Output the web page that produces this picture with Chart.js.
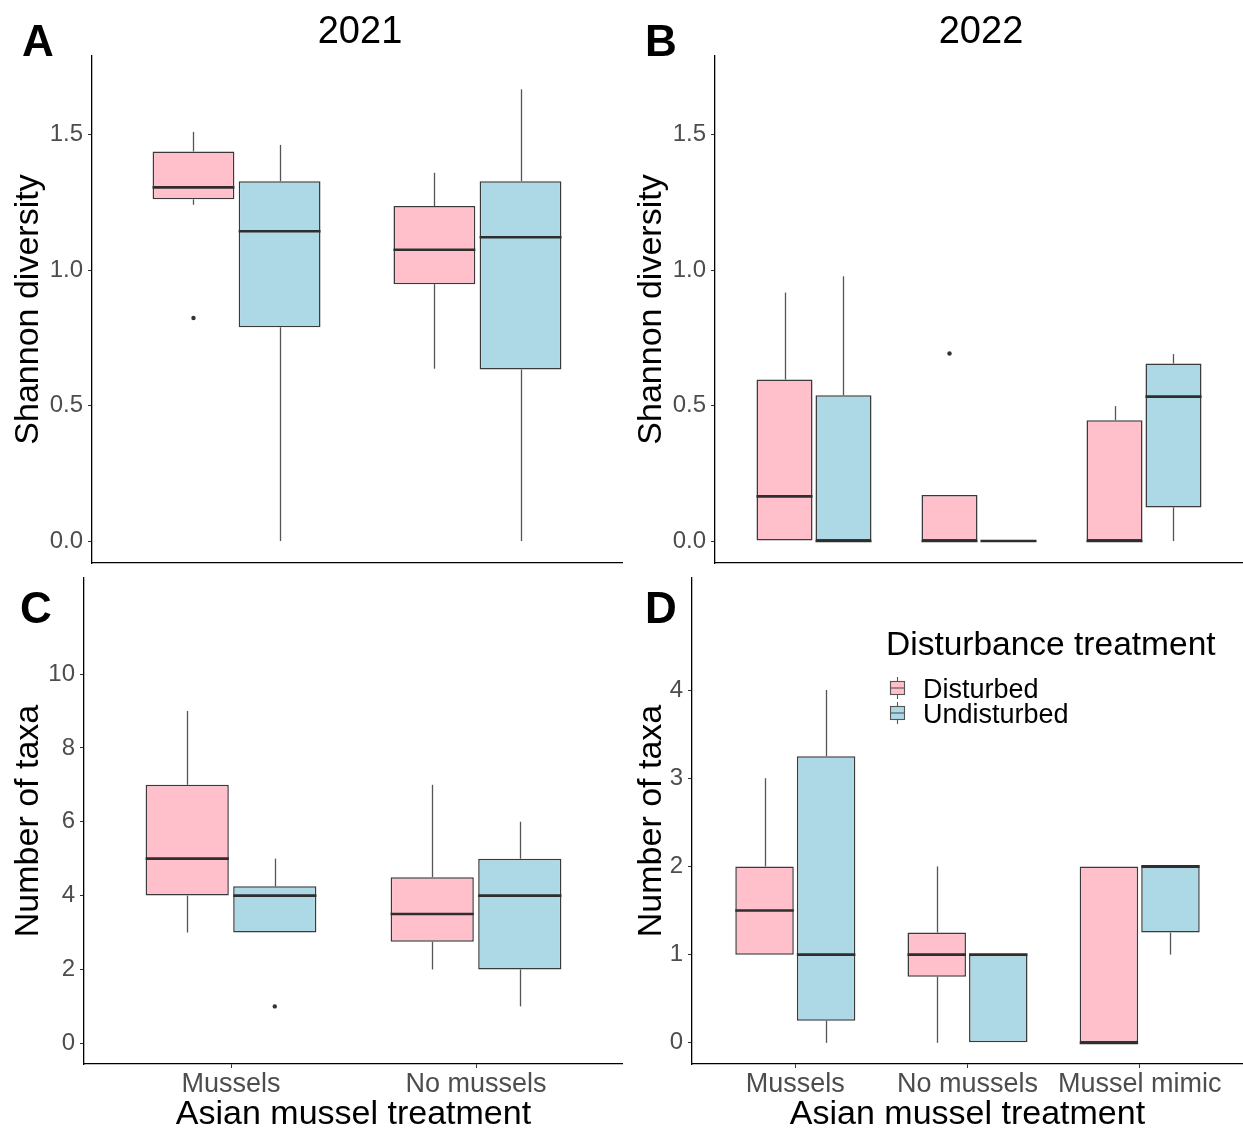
<!DOCTYPE html>
<html>
<head>
<meta charset="utf-8">
<script src="https://cdn.jsdelivr.net/npm/chart.js@4.4.1/dist/chart.umd.min.js"></script>
<style>
  body { margin: 0; background: #fff; width: 1243px; height: 1133px; position: relative; overflow: hidden;
         font-family: "Liberation Sans", Arial, sans-serif; }
  canvas { position: absolute; }
  .lbl { position: absolute; line-height: 1; color: #000; white-space: nowrap; }
</style>
</head>
<body>
<canvas id="cA" width="623" height="600" style="left:0px;top:0px"></canvas>
<canvas id="cB" width="620" height="600" style="left:623px;top:0px"></canvas>
<canvas id="cC" width="623" height="593" style="left:0px;top:540px"></canvas>
<canvas id="cD" width="620" height="593" style="left:623px;top:540px"></canvas>

<div class="lbl" style="left:22px;top:19px;font-size:44px;font-weight:bold">A</div>
<div class="lbl" style="left:645px;top:19px;font-size:44px;font-weight:bold">B</div>
<div class="lbl" style="left:20px;top:586px;font-size:44px;font-weight:bold">C</div>
<div class="lbl" style="left:645px;top:586px;font-size:44px;font-weight:bold">D</div>
<div class="lbl" id="t2021" style="left:360px;top:11px;font-size:38px;transform:translateX(-50%)"></div>
<div class="lbl" id="t2022" style="left:981px;top:11px;font-size:38px;transform:translateX(-50%)"></div>

<script>
// ---------------- DATA ----------------
// box stats: [lower whisker, Q1, median, Q3, upper whisker]
const years = ['2021', '2022'];
const groups = ['Disturbed', 'Undisturbed'];
const groupColors = ['#FFC0CB', '#ADD8E6'];
const categories2021 = ['Mussels', 'No mussels'];
const categories2022 = ['Mussels', 'No mussels', 'Mussel mimic'];

const shannon2021Disturbed   = [[1.241, 1.261, 1.305, 1.438, 1.510], [0.636, 0.948, 1.075, 1.236, 1.359]];
const shannon2021DisturbedOut   = [[0.823], []];
const shannon2021Undisturbed = [[0, 0.789, 1.143, 1.328, 1.462], [0, 0.633, 1.121, 1.328, 1.667]];
const shannon2021UndisturbedOut = [[], []];

const shannon2022Disturbed   = [[0, 0, 0.165, 0.596, 0.917], [0, 0, 0, 0.170, 0.170], [0, 0, 0, 0.446, 0.498]];
const shannon2022DisturbedOut   = [[], [0.692], []];
const shannon2022Undisturbed = [[0, 0, 0, 0.538, 0.977], [0, 0, 0, 0, 0], [0, 0.124, 0.533, 0.655, 0.690]];
const shannon2022UndisturbedOut = [[], [], []];

const taxa2021Disturbed   = [[3, 4, 5, 7, 9], [2, 2.75, 3.5, 4.5, 7]];
const taxa2021DisturbedOut   = [[], []];
const taxa2021Undisturbed = [[3, 3, 4, 4.25, 5], [1, 2, 4, 5, 6]];
const taxa2021UndisturbedOut = [[1], []];

const taxa2022Disturbed   = [[1, 1, 1.5, 2, 3], [0, 0.75, 1, 1.25, 2], [0, 0, 0, 2, 2]];
const taxa2022DisturbedOut   = [[], [], []];
const taxa2022Undisturbed = [[0, 0.25, 1, 3.25, 4], [0, 0, 1, 1, 1], [1, 1.25, 2, 2, 2]];
const taxa2022UndisturbedOut = [[], [], []];

const shannonTickValues = [0, 0.5, 1.0, 1.5];
const shannonTickLabels = ['0.0', '0.5', '1.0', '1.5'];
const taxa2021TickValues = [0, 2, 4, 6, 8, 10];
const taxa2021TickLabels = ['0', '2', '4', '6', '8', '10'];
const taxa2022TickValues = [0, 1, 2, 3, 4];
const taxa2022TickLabels = ['0', '1', '2', '3', '4'];

const yTitleShannon = 'Shannon diversity';
const yTitleTaxa = 'Number of taxa';
const xTitle = 'Asian mussel treatment';
const legendTitle = 'Disturbance treatment';

// ---------------- RENDER ----------------
document.getElementById('t2021').textContent = years[0];
document.getElementById('t2022').textContent = years[1];

const FAMILY = '"Liberation Sans", Arial, sans-serif';
const LINE = '#3a3a3a';
const WHISK = '#555';

function strokeLine(ctx, x1, y1, x2, y2) {
  ctx.beginPath(); ctx.moveTo(x1, y1); ctx.lineTo(x2, y2); ctx.stroke();
}

const boxParts = {
  id: 'boxParts',
  beforeDatasetsDraw(chart) {
    const ctx = chart.ctx, ys = chart.scales.y;
    ctx.save();
    ctx.strokeStyle = WHISK; ctx.lineWidth = 1.3;
    chart.data.datasets.forEach((ds, di) => {
      chart.getDatasetMeta(di).data.forEach((bar, i) => {
        const s = ds.stats[i];
        const x = Math.round(bar.x) + 0.5;
        if (s[0] < s[1]) strokeLine(ctx, x, ys.getPixelForValue(s[0]), x, ys.getPixelForValue(s[1]));
        if (s[4] > s[3]) strokeLine(ctx, x, ys.getPixelForValue(s[3]), x, ys.getPixelForValue(s[4]));
      });
    });
    ctx.restore();
  },
  afterDatasetsDraw(chart) {
    const ctx = chart.ctx, ys = chart.scales.y;
    ctx.save();
    chart.data.datasets.forEach((ds, di) => {
      chart.getDatasetMeta(di).data.forEach((bar, i) => {
        const s = ds.stats[i];
        const ym = ys.getPixelForValue(s[2]);
        ctx.strokeStyle = '#2e2e2e'; ctx.lineWidth = 2.6;
        strokeLine(ctx, bar.x - bar.width / 2, ym, bar.x + bar.width / 2, ym);
        ctx.fillStyle = '#333';
        ds.outliers[i].forEach(v => {
          ctx.beginPath();
          ctx.arc(bar.x, ys.getPixelForValue(v), 2.2, 0, Math.PI * 2);
          ctx.fill();
        });
      });
    });
    ctx.restore();
  }
};

const boxLegend = {
  id: 'boxLegend',
  afterDraw(chart, args, opts) {
    if (!opts.show) return;
    const ctx = chart.ctx;
    ctx.save();
    ctx.fillStyle = '#000';
    ctx.textBaseline = 'alphabetic';
    ctx.textAlign = 'left';
    ctx.font = '33.5px ' + FAMILY;
    ctx.fillText(opts.title, opts.x, opts.titleY);
    ctx.font = '27px ' + FAMILY;
    chart.data.datasets.forEach((ds, i) => {
      const base = opts.itemY + i * opts.step;
      const kx = opts.x + 4, kw = 15, kTop = base - 17, kh = 14;
      const cx = kx + kw / 2;
      ctx.strokeStyle = WHISK; ctx.lineWidth = 1.1;
      strokeLine(ctx, cx, kTop - 4, cx, kTop);
      strokeLine(ctx, cx, kTop + kh, cx, kTop + kh + 4);
      ctx.fillStyle = ds.backgroundColor;
      ctx.fillRect(kx, kTop, kw, kh);
      ctx.strokeRect(kx + 0.5, kTop + 0.5, kw - 1, kh - 1);
      strokeLine(ctx, kx, kTop + kh / 2, kx + kw, kTop + kh / 2);
      ctx.fillStyle = '#000';
      ctx.fillText(ds.label, opts.x + 37, base);
    });
    ctx.restore();
  }
};

function boxPanel(id, o) {
  const mk = (gi, stats, outs) => ({
    label: groups[gi],
    backgroundColor: groupColors[gi],
    borderColor: LINE,
    borderWidth: 1.5,
    borderSkipped: false,
    categoryPercentage: 0.715,
    barPercentage: 0.95,
    stats: stats,
    outliers: outs,
    data: stats.map((s, i) => ({ x: i + 1, y: [s[1], s[3]] }))
  });
  return new Chart(document.getElementById(id), {
    type: 'bar',
    data: { datasets: [mk(0, o.dist, o.distOut), mk(1, o.und, o.undOut)] },
    options: {
      responsive: false,
      animation: false,
      events: [],
      layout: { padding: { top: o.padTop, right: o.padRight, left: 0, bottom: 0 } },
      plugins: {
        legend: { display: false },
        tooltip: { enabled: false },
        boxLegend: o.legend || { show: false }
      },
      scales: {
        x: {
          type: 'linear',
          min: 0.4,
          max: o.cats.length + 0.6,
          offset: false,
          afterBuildTicks: s => { s.ticks = o.cats.map((c, i) => ({ value: i + 1 })); },
          afterFit: s => { s.height = o.xH; },
          ticks: {
            display: o.showX,
            autoSkip: false, maxRotation: 0,
            callback: (v, i) => o.cats[i],
            font: { size: 27, family: FAMILY },
            color: '#4d4d4d',
            padding: 0
          },
          grid: { display: o.showX, offset: false, drawOnChartArea: false, drawTicks: true, tickLength: 4, color: '#333' },
          border: { display: true, color: '#000', width: 1.3 },
          title: { display: o.showX, text: xTitle, color: '#000', font: { size: 34, family: FAMILY, lineHeight: 1.1 }, padding: { top: 0, bottom: 0 } }
        },
        y: {
          type: 'linear',
          min: o.yMin,
          max: o.yMax,
          afterBuildTicks: s => { s.ticks = o.yTicks.map(v => ({ value: v })); },
          afterFit: s => { s.width = o.yW; },
          ticks: {
            callback: (v, i) => o.yLabels[i],
            font: { size: 24, family: FAMILY },
            color: '#4d4d4d',
            padding: 5
          },
          grid: { drawOnChartArea: false, drawTicks: true, tickLength: 4, color: '#333' },
          border: { display: true, color: '#000', width: 1.3 },
          title: { display: true, text: o.yTitle, color: '#000', font: { size: 34, family: FAMILY }, padding: { top: 8, bottom: 0 } }
        }
      }
    },
    plugins: [boxParts, boxLegend]
  });
}

boxPanel('cA', {
  cats: categories2021, dist: shannon2021Disturbed, distOut: shannon2021DisturbedOut,
  und: shannon2021Undisturbed, undOut: shannon2021UndisturbedOut,
  yMin: -0.081, yMax: 1.79, yTicks: shannonTickValues, yLabels: shannonTickLabels, yTitle: yTitleShannon,
  padTop: 56, padRight: 1, yW: 92, xH: 37, showX: false
});
boxPanel('cB', {
  cats: categories2022, dist: shannon2022Disturbed, distOut: shannon2022DisturbedOut,
  und: shannon2022Undisturbed, undOut: shannon2022UndisturbedOut,
  yMin: -0.081, yMax: 1.79, yTicks: shannonTickValues, yLabels: shannonTickLabels, yTitle: yTitleShannon,
  padTop: 56, padRight: 0, yW: 92, xH: 37, showX: false
});
boxPanel('cC', {
  cats: categories2021, dist: taxa2021Disturbed, distOut: taxa2021DisturbedOut,
  und: taxa2021Undisturbed, undOut: taxa2021UndisturbedOut,
  yMin: -0.56, yMax: 12.6, yTicks: taxa2021TickValues, yLabels: taxa2021TickLabels, yTitle: yTitleTaxa,
  padTop: 38, padRight: 0, yW: 84, xH: 69, showX: true
});
boxPanel('cD', {
  cats: categories2022, dist: taxa2022Disturbed, distOut: taxa2022DisturbedOut,
  und: taxa2022Undisturbed, undOut: taxa2022UndisturbedOut,
  yMin: -0.24, yMax: 5.27, yTicks: taxa2022TickValues, yLabels: taxa2022TickLabels, yTitle: yTitleTaxa,
  padTop: 38, padRight: 0, yW: 69, xH: 69, showX: true,
  legend: { show: true, title: legendTitle, x: 263, titleY: 115, itemY: 158, step: 25 }
});
</script>
</body>
</html>
